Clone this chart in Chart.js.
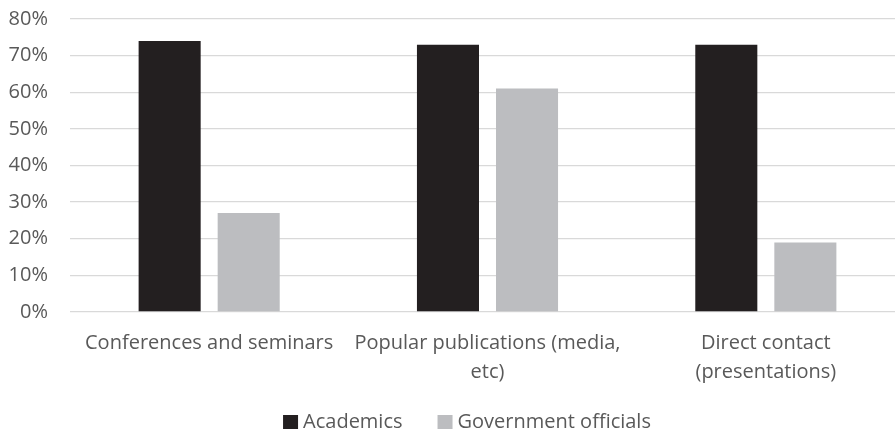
<!DOCTYPE html>
<html>
<head>
<meta charset="utf-8">
<script src="https://cdn.jsdelivr.net/npm/chart.js@4"></script>
<style>
  html, body { margin: 0; padding: 0; background: #fff; overflow: hidden; }
  #wrap { width: 905px; height: 434px; }
</style>
</head>
<body>
<div id="wrap"><canvas id="c" width="905" height="434"></canvas></div>
<script>
const categories = [
  'Conferences and seminars',
  ['Popular publications (media,', 'etc)'],
  ['Direct contact', '(presentations)']
];
const academics = [74, 73, 73];
const governmentOfficials = [27, 61, 19];
const yTicks = [0, 10, 20, 30, 40, 50, 60, 70, 80];

const FONT = '"Open Sans", sans-serif';
const FONT_SIZE = 20;
const TEXT = '#595959';

// Legend row under the axis labels: square swatch + label per dataset
const bottomLegend = {
  id: 'bottomLegend',
  afterDraw(chart) {
    const ctx = chart.ctx;
    const box = { w: 15, h: 14 }, gap = 5, spacing = 35;
    const centerX = 467, centerY = 422;
    ctx.save();
    ctx.font = FONT_SIZE + 'px ' + FONT;
    ctx.textBaseline = 'middle';
    const items = chart.data.datasets.map(ds => ({
      text: ds.label, color: ds.backgroundColor, tw: ctx.measureText(ds.label).width
    }));
    const total = items.reduce((s, it) => s + box.w + gap + it.tw, 0) + spacing * (items.length - 1);
    let x = centerX - total / 2;
    items.forEach(it => {
      ctx.fillStyle = it.color;
      ctx.fillRect(x, centerY - box.h / 2, box.w, box.h);
      x += box.w + gap;
      ctx.fillStyle = TEXT;
      ctx.fillText(it.text, x, centerY);
      x += it.tw + spacing;
    });
    ctx.restore();
  }
};

new Chart(document.getElementById('c'), {
  type: 'bar',
  data: {
    labels: categories,
    datasets: [
      { label: 'Academics', data: academics, backgroundColor: '#231f20',
        categoryPercentage: 0.568, barPercentage: 0.785 },
      { label: 'Government officials', data: governmentOfficials, backgroundColor: '#bcbdc0',
        categoryPercentage: 0.568, barPercentage: 0.785 }
    ]
  },
  options: {
    responsive: false,
    animation: false,
    layout: { padding: { top: 19, left: 0, right: 0, bottom: 0 } },
    plugins: {
      tooltip: { enabled: false },
      legend: { display: false }
    },
    scales: {
      x: {
        grid: { display: false },
        border: { display: false },
        ticks: {
          font: { family: FONT, size: FONT_SIZE, lineHeight: 1.45 },
          color: TEXT,
          maxRotation: 0,
          autoSkip: false,
          padding: 9
        },
        afterFit(scale) { scale.height = 122; }
      },
      y: {
        min: 0,
        max: 80,
        afterBuildTicks(scale) { scale.ticks = yTicks.map(v => ({ value: v })); },
        grid: { color: '#d9d9d9', lineWidth: 1.3, drawTicks: false },
        border: { display: false },
        ticks: {
          font: { family: FONT, size: FONT_SIZE },
          color: TEXT,
          padding: 22,
          callback: v => v + '%'
        },
        afterFit(scale) { scale.width = 70; scale.paddingTop = 0; scale.paddingBottom = 0; }
      }
    }
  },
  plugins: [bottomLegend]
});
</script>
</body>
</html>
